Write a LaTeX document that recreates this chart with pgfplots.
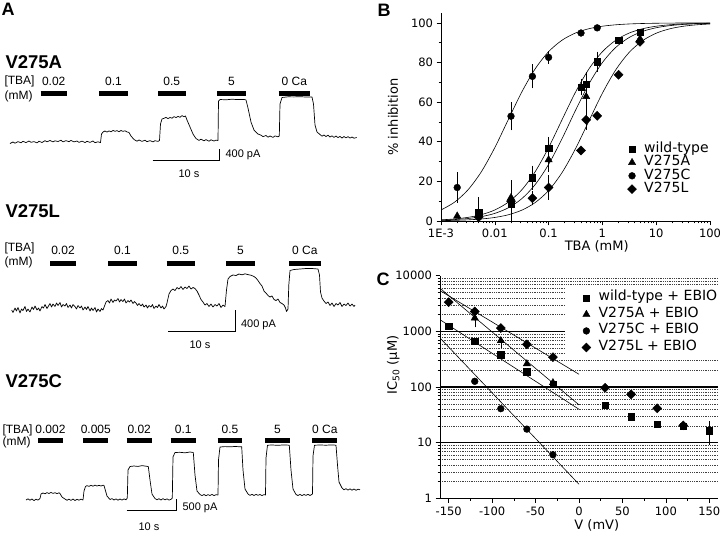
\documentclass[border=0pt]{standalone}
\usepackage{pgfplots}
\pgfplotsset{compat=1.18}
\usepackage{fontspec}
\setmainfont{Liberation Sans}
\newfontfamily\dv{DejaVu Sans}
\newcommand\fA{\fontsize{12bp}{14bp}\selectfont}
\newcommand\fSc{\fontsize{11bp}{13bp}\selectfont}
\newcommand\fName{\bfseries\fontsize{18.5bp}{20bp}\selectfont}
\newcommand\fPanel{\bfseries\fontsize{18bp}{20bp}\selectfont}
\newcommand\fTick{\dv\fontsize{11.5bp}{13bp}\selectfont}
\newcommand\fLeg{\dv\fontsize{14bp}{16bp}\selectfont}
\newcommand\fLab{\dv\fontsize{13bp}{15bp}\selectfont}

\pgfplotsset{
  legimg/.style={legend image code/.code={\path (0bp,0bp) (18bp,0bp); \draw[##1] plot coordinates {(8bp,0bp)};}},
  sqm/.style={black, only marks, mark=square*, mark size=3.2bp, legimg},
  trm/.style={black, only marks, mark=triangle*, mark size=4.2bp, legimg},
  cim/.style={black, only marks, mark=*, mark size=3.4bp, legimg},
  dim/.style={black, only marks, mark=square*, mark size=3.2bp, mark options={rotate=45, fill=black, draw=black}, legimg},
  errb/.style={black, only marks, mark=none, forget plot,
    error bars/.cd, y dir=both, y explicit,
    error bar style={black, line width=0.5bp},
    error mark options={black, mark size=2.2bp, line width=0.5bp}},
  fitc/.style={black, line width=0.6bp, smooth, no marks, forget plot},
  bar/.style={black, line width=5bp},
  trace/.style={black, line width=0.7bp, line join=round},
  sbar/.style={black, line width=0.6bp},
}

\begin{document}
\begin{tikzpicture}[x=1bp,y=1bp]
%================ PANEL A (pixel coordinates) ================
\begin{axis}[at={(0bp,0bp)}, anchor=south west, scale only axis,
  width=720bp, height=540bp, xmin=0, xmax=720, ymin=0, ymax=540,
  y dir=reverse, hide axis, clip=false]
\node[font=\fPanel, anchor=center] at (axis cs:8,9) {A};
\node[font=\fPanel, anchor=center] at (axis cs:384,10) {B};
\node[font=\fPanel, anchor=center] at (axis cs:383,279) {C};
% ---------- V275A ----------
\node[font=\fName, anchor=west] at (axis cs:2,62) {V275A};
\node[font=\fA, anchor=west] at (axis cs:1,81.7) {[TBA]};
\node[font=\fA, anchor=west] at (axis cs:1,96) {(mM)};
\node[font=\fA] at (axis cs:53.7,81) {0.02};
\node[font=\fA] at (axis cs:113.5,81) {0.1};
\node[font=\fA] at (axis cs:171.8,81) {0.5};
\node[font=\fA] at (axis cs:231.5,81) {5};
\node[font=\fA] at (axis cs:294.3,81) {0 Ca};
\addplot[bar] coordinates {(40.7,93.3) (66.7,93.3)};
\addplot[bar] coordinates {(99.3,93.3) (127.7,93.3)};
\addplot[bar] coordinates {(158,93.3) (185.7,93.3)};
\addplot[bar] coordinates {(217,93.3) (246,93.3)};
\addplot[bar] coordinates {(278.7,93.3) (310,93.3)};
\addplot[trace] coordinates {
(10,143.5) (13,142) (15,143.2) (18,141.6) (21,142.8) (23,141.3) (26,142.6) (29,141) (31,142.3)
(34,141.6) (37,142.9) (39,141.2) (42,142.5) (45,140.7) (47,141.8) (50,140.5) (53,141.9) (55,140.8)
(58,141.5) (61,140.2) (63,141.9) (66,140.6) (69,141.7) (71,140.4) (74,141.9) (77,141) (79,142.4)
(82,141.1) (85,142.6) (87,141.3) (90,142.4) (93,141) (95,142.7) (98,141.8) (100.5,142.6)
(101.5,134) (103,132) (105,131) (107,132.1) (109,130.9) (111,131.8) (113,130.4) (115,131.3)
(117,130.6) (119,131.7) (121,130.5) (123,131.4) (125,130.8) (127,131.9)
(129,132.5) (131,136) (134,139.5) (137,141.2) (139,140) (142,141.4) (145,140.2) (147,141.7)
(150,140.6) (153,141.9) (155,140.7) (158,141.4) (159.5,140.5) (160.5,124) (162,119) (164,118.3)
(166,117.4) (168,118.6) (170,117.5) (172,118.2) (174,116.6) (176,117.6) (178,116.4) (180,117.3)
(182,115.6) (184,116.7) (185.5,116) (187,120) (190,127) (193,134) (196,138.5) (199,140.4)
(201,139.2) (204,140.8) (206,139.6) (209,141.2) (211,139.8) (214,141) (216,140.1) (218,140.5)
(218.5,101) (220,99.5) (226,99.8) (232,99.2) (238,99.6) (244,99.4) (246,100) (248,108) (251,122)
(254,130) (258,134) (261,135.2) (263,136.6) (266,135.5) (268,137.2) (270,136) (273,137.4)
(275,135.9) (278,136.8) (279.3,136) (280,104) (282,97.5) (288,96.8) (294,96.9) (300,96.7)
(306,97) (312,97) (313.5,104) (315,125) (317,132) (320,134.5) (322,136.2) (324,135) (326,136.5)
(328,135.2) (330,137) (332,135.8) (334,137.4) (336,136) (338,137.6) (340,136.4) (342,138)
(344,136.5) (346,137.9) (348,136.6) (350,138.1) (352,137) (354,138.2) (356.7,137.5)};
\addplot[sbar] coordinates {(152.7,160.7) (219,160.7) (219,149.3)};
\node[font=\fSc, anchor=west] at (axis cs:222,155) {400 pA};
\node[font=\fSc] at (axis cs:189,173.3) {10 s};
% ---------- V275L ----------
\node[font=\fName, anchor=west] at (axis cs:2,211.5) {V275L};
\node[font=\fA, anchor=west] at (axis cs:1,248) {[TBA]};
\node[font=\fA, anchor=west] at (axis cs:1,262) {(mM)};
\node[font=\fA] at (axis cs:63,250.7) {0.02};
\node[font=\fA] at (axis cs:122.5,250.7) {0.1};
\node[font=\fA] at (axis cs:180.7,250.7) {0.5};
\node[font=\fA] at (axis cs:240.5,250.7) {5};
\node[font=\fA] at (axis cs:304.8,250.7) {0 Ca};
\addplot[bar] coordinates {(50,263.2) (76,263.2)};
\addplot[bar] coordinates {(108.3,263.2) (136.7,263.2)};
\addplot[bar] coordinates {(166.7,263.2) (194.7,263.2)};
\addplot[bar] coordinates {(226,263.2) (255,263.2)};
\addplot[bar] coordinates {(289,263.2) (320.7,263.2)};
\addplot[trace] coordinates {
(11.7,310) (13,312.5) (15,308) (16.5,311) (18,307.5) (20,313) (21.5,309) (23,310.5) (25,306.5)
(26.5,311.5) (28,309) (30,312) (32,307) (33.5,309.5) (35,306) (37,310) (38.5,308) (40,311)
(42,306.5) (43.5,308) (45,304.5) (47,308.5) (48.5,306) (50,303.5) (51.5,307) (53,304) (55,306.5)
(56.5,303) (58,305.5) (60,302.5) (61.5,307) (63,304.5) (65,306) (66.5,303.5) (68,307.5) (70,305)
(71.5,308) (73,304.5) (75,306.5) (76.5,309) (78,305.5) (80,308) (81.5,306) (83,310) (85,307)
(86.5,309.5) (88,306.5) (90,311) (91.5,308) (93,310.5) (95,307.5) (96.5,312) (98,309) (100,311.5)
(101.5,308.5) (103,310) (104.5,306) (106,302) (108,300.5) (109.5,303) (111,299) (113,302.5)
(114.5,300) (116,301) (118,298.5) (119.5,302) (121,299.5) (123,301.5) (124.5,299) (126,303)
(128,300.5) (129.5,302) (131,300) (133,303.5) (134.5,301.5) (136,303) (137.5,305.5) (139,303.5)
(141,306) (142.5,304) (144,307) (146,305) (147.5,308) (149,305.5) (151,307) (152.5,304.5)
(154,308.5) (156,306) (157.5,307.5) (159,304.5) (161,308) (162.5,306) (164,309) (166,306.5)
(167,303) (169,294) (171,290.5) (173,289) (175,290.5) (177,287.5) (179,289) (181,286.5)
(183,289.5) (185,287) (187,288.5) (189,286) (191,289) (193,287.5) (195,288.5) (197,291)
(199,295) (201,299.5) (203,302) (205,305) (207,303.5) (209,306.5) (211,304) (213,307)
(215,304.5) (217,306) (219,303.5) (221,307.5) (223,305) (225,306.5) (226.5,290) (228,279)
(230,276.5) (233,275) (236,275.5) (239,274) (242,274.8) (245,273.8) (248,274.6) (251,275.2)
(254,276.5) (256,278) (258,280.5) (260,283.5) (262,286) (264,291) (266,293) (268,295.5)
(270,297) (272,296) (274,299.5) (276,300.5) (278,299) (280,302.5) (282,303.5) (284,305)
(285.5,308) (286.5,311.5) (288,309) (288.8,285) (290,270.5) (294,269.5) (300,269) (306,268.5)
(312,268.5) (318,269) (319.5,275) (320.5,292) (322,298) (324,301) (326,303.5) (328,302)
(330,305.5) (332,303) (334,306.5) (336,303.5) (338,305) (340,302.5) (342,306.5) (344,304)
(346,305.5) (348,303) (350,306) (352,304) (354,306.5) (355,305)};
\addplot[sbar] coordinates {(168.3,331.7) (235.7,331.7) (235.7,310)};
\node[font=\fSc, anchor=west] at (axis cs:237.5,325) {400 pA};
\node[font=\fSc] at (axis cs:200,345) {10 s};
% ---------- V275C ----------
\node[font=\fName, anchor=west] at (axis cs:2,381.5) {V275C};
\node[font=\fA, anchor=west] at (axis cs:-1,430) {[TBA]};
\node[font=\fA, anchor=west] at (axis cs:-1,442) {(mM)};
\node[font=\fA] at (axis cs:50.5,429.3) {0.002};
\node[font=\fA] at (axis cs:95.8,429.3) {0.005};
\node[font=\fA] at (axis cs:139.2,429.3) {0.02};
\node[font=\fA] at (axis cs:183.2,429.3) {0.1};
\node[font=\fA] at (axis cs:230,429.3) {0.5};
\node[font=\fA] at (axis cs:277.5,429.3) {5};
\node[font=\fA] at (axis cs:324.8,429.3) {0 Ca};
\addplot[bar] coordinates {(38.3,440.8) (62.7,440.8)};
\addplot[bar] coordinates {(83.3,440.8) (108.3,440.8)};
\addplot[bar] coordinates {(126.7,440.8) (151.7,440.8)};
\addplot[bar] coordinates {(170.7,440.8) (195.7,440.8)};
\addplot[bar] coordinates {(217.7,440.8) (242.3,440.8)};
\addplot[bar] coordinates {(265,440.8) (290,440.8)};
\addplot[bar] coordinates {(312.3,440.8) (337.3,440.8)};
\addplot[trace] coordinates {
(26,500) (28,498.8) (30,500.2) (32,499) (34,500.6) (36,499.2) (38,500.1) (40,498.5) (41,494)
(43,493) (45,493.8) (47,492.6) (49,493.5) (51,492.4) (53,493.4) (55,492.7) (57,493.6) (59,492.8)
(60,493.5) (62,497) (65,499) (67,500.3) (69,499.1) (71,500.4) (73,499) (75,500.5) (77,499.3)
(79,500.2) (81,499.1) (83,500) (84,491) (85.5,486.5) (87,485.6) (89,486.4) (91,485.3) (93,486.2)
(95,485.1) (97,486) (99,485.3) (101,486) (103,485.2) (104,485.5) (105,489) (107,496) (110,499.5)
(112,498.6) (114,500) (116,498.9) (118,500.2) (120,499) (122,500.1) (124,498.9) (126,499.8)
(127.3,498) (128,470) (130,466.5) (134,466) (138,466.4) (142,465.6) (146,466.2) (148.3,466.5)
(150,480) (152,494) (155,498.5) (157,499.8) (159,498.7) (161,500) (163,498.6) (165,499.9)
(167,498.8) (169,500.1) (171,499.3) (172.3,498) (173,457) (175,452.5) (180,452.3) (185,452.8)
(190,452) (193.3,452.5) (195,475) (197,491) (200,494.5) (202,495.6) (204,494.5) (206,495.7)
(208,494.6) (210,495.5) (212,494.4) (214,495.6) (216,494.7) (218,495) (218.5,460) (220,447)
(225,446.6) (230,446.8) (235,446.5) (241.7,446.8) (243,470) (245,489) (248,494) (250,495.4)
(252,494.3) (254,495.5) (256,494.4) (258,495.3) (260,494.5) (262,495.6) (264,494.6) (265.5,495)
(266,458) (267.5,445.2) (272,445) (278,445.3) (284,444.9) (289.3,445.2) (291,470) (293,489)
(296,494.5) (298,495.5) (300,494.4) (302,495.6) (304,494.5) (306,495.4) (308,494.3) (310,495.5)
(312.5,494) (313,456) (314.5,445.2) (320,445) (326,445.2) (332,444.9) (336,445.2) (337.5,465)
(339,482) (342,488) (344,489.8) (346,488.7) (348,490.1) (350,488.8) (352,490.2) (354,489)
(356,490.3) (358,489.2) (360,489.8)};
\addplot[sbar] coordinates {(126.7,510.7) (176.7,510.7) (176.7,499.3)};
\node[font=\fSc, anchor=west] at (axis cs:179,508) {500 pA};
\node[font=\fSc] at (axis cs:149,526.7) {10 s};
\end{axis}

%================ PANEL B ================
\begin{axis}[at={(441bp,319bp)}, anchor=south west, scale only axis,
  width=269bp, height=208bp,
  xmode=log, xmin=0.001, xmax=100, ymin=0, ymax=105,
  axis lines*=left, axis line style={-, line width=0.7bp},
  tick align=outside, tick style={black, line width=0.6bp},
  major tick length=4.5bp, minor tick length=2.5bp,
  ytick={0,20,40,60,80,100}, minor ytick={10,30,50,70,90},
  xtick={0.001,0.01,0.1,1,10,100}, xticklabels={1E-3,0.01,0.1,1,10,100},
  minor xtick={0.002,0.003,0.004,0.005,0.006,0.007,0.008,0.009,
    0.02,0.03,0.04,0.05,0.06,0.07,0.08,0.09,0.2,0.3,0.4,0.5,0.6,0.7,0.8,0.9,
    2,3,4,5,6,7,8,9,20,30,40,50,60,70,80,90},
  tick label style={font=\fTick}, /pgf/number format/assume math mode=true,
  xlabel={TBA (mM)}, ylabel={\% inhibition}, label style={font=\fLab},
  xlabel style={at={(axis description cs:0.579,-0.124)}, anchor=center},
  ylabel style={at={(axis description cs:-0.178,0.5)}, anchor=center},
  legend cell align=left,
  legend style={at={(axis description cs:0.679,0.378)}, anchor=north west,
    draw=none, fill=none, inner sep=0pt, row sep=0pt, font=\fLeg,
    nodes={inner ysep=0pt, text height=10bp, text depth=3.3bp}},
]
% fitted curves
\addplot[fitc] coordinates {(0.001,5.56) (0.001778,9.47) (0.003162,15.68) (0.005623,24.86) (0.01,37.04) (0.01778,51.12) (0.03162,65.03) (0.05623,76.79) (0.1,85.47) (0.1778,91.27) (0.3162,94.90) (0.5623,97.07) (1,98.33) (1.778,99.05) (3.162,99.47) (5.623,99.70) (10,99.83) (17.78,99.90) (31.62,99.95) (56.23,99.97) (100,99.98)};
\addplot[fitc] coordinates {(0.001,0.585) (0.001778,1.035) (0.003162,1.826) (0.005623,3.20) (0.01,5.56) (0.01778,9.47) (0.03162,15.68) (0.05623,24.86) (0.1,37.04) (0.1778,51.12) (0.3162,65.03) (0.5623,76.79) (1,85.47) (1.778,91.27) (3.162,94.90) (5.623,97.07) (10,98.33) (17.78,99.05) (31.62,99.47) (56.23,99.70) (100,99.83)};
\addplot[fitc] coordinates {(0.001,0.398) (0.001778,0.706) (0.003162,1.249) (0.005623,2.20) (0.01,3.85) (0.01778,6.64) (0.03162,11.23) (0.05623,18.36) (0.1,28.57) (0.1778,41.56) (0.3162,55.85) (0.5623,69.22) (1,80.0) (1.778,87.67) (3.162,92.67) (5.623,95.74) (10,97.56) (17.78,98.61) (31.62,99.22) (56.23,99.56) (100,99.75)};
\addplot[fitc] coordinates {(0.001,0.181) (0.001778,0.322) (0.003162,0.572) (0.005623,1.012) (0.01,1.786) (0.01778,3.13) (0.03162,5.44) (0.05623,9.28) (0.1,15.38) (0.1778,24.43) (0.3162,36.50) (0.5623,50.55) (1,64.52) (1.778,76.37) (3.162,85.18) (5.623,91.09) (10,94.79) (17.78,97.0) (31.62,98.29) (56.23,99.03) (100,99.45)};
% error bars
\addplot[errb] coordinates {(0.005,4.4) +- (0,6.5) (0.02,8.6) +- (0,7.5) (0.05,21.9) +- (0,5) (0.1,36.8) +- (0,4.5) (0.4,67.6) +- (0,3) (0.5,69) +- (0,5) (0.8,80.4) +- (0,4)};
\addplot[errb] coordinates {(0.02,11.8) +- (0,7.7) (0.1,30.9) +- (0,5) (0.5,62.8) +- (0,6)};
\addplot[errb] coordinates {(0.002,16.9) +- (0,6.5) (0.02,52.9) +- (0,6) (0.05,73) +- (0,5) (0.1,82.6) +- (0,2)};
\addplot[errb] coordinates {(0.05,11.5) +- (0,2.5) (0.1,16.9) +- (0,5) (0.5,51.1) +- (0,4)};
% markers
\addplot[sqm] coordinates {(0.005,4.4) (0.02,8.6) (0.05,21.9) (0.1,36.8) (0.4,67.6) (0.5,69) (0.8,80.4) (2,91.2) (5,95.4)};
\addlegendentry{wild-type}
\addplot[trm] coordinates {(0.002,2.5) (0.02,11.8) (0.1,30.9) (0.5,62.8) (5,92)};
\addlegendentry{V275A}
\addplot[cim] coordinates {(0.002,16.9) (0.02,52.9) (0.05,73) (0.1,82.6) (0.4,94.9) (0.8,97.5)};
\addlegendentry{V275C}
\addplot[dim] coordinates {(0.005,1.9) (0.02,10) (0.05,11.5) (0.1,16.9) (0.4,35.6) (0.5,51.1) (0.8,53.1) (2,73.8) (5,90.4)};
\addlegendentry{V275L}
\end{axis}

%================ PANEL C ================
\begin{axis}[at={(440bp,41.5bp)}, anchor=south west, scale only axis,
  width=278bp, height=222.8bp,
  xmin=-160, xmax=160, ymode=log, ymin=1, ymax=10000,
  axis lines*=left, axis line style={-, line width=0.7bp},
  tick align=outside, tick style={black, line width=0.6bp},
  major tick length=4.5bp, minor tick length=2.5bp,
  xtick={-150,-100,-50,0,50,100,150}, xticklabels={-150,-100,-50,0,50,100,150},
  minor xtick={-125,-75,-25,25,75,125},
  ytick={1,10,100,1000,10000}, yticklabels={1,10,100,1000,10000},
  minor ytick={2,3,4,5,6,7,8,9,20,30,40,50,60,70,80,90,200,300,400,500,600,700,800,900,2000,3000,4000,5000,6000,7000,8000,9000},
  yminorgrids=true,
  minor grid style={black!75, line width=0.5bp, dash pattern=on 0.7bp off 1.1bp},
  extra y ticks={10,100,1000}, extra y tick labels={},
  extra y tick style={grid=major, major grid style={black, line width=1.3bp}},
  tick label style={font=\fTick}, /pgf/number format/assume math mode=true,
  xlabel={V (mV)}, ylabel={IC\textsubscript{50} (µM)}, label style={font=\fLab},
  xlabel style={at={(axis description cs:0.564,-0.119)}, anchor=center},
  ylabel style={at={(axis description cs:-0.168,0.599)}, anchor=center},
  legend cell align=left,
  legend style={at={(axis description cs:0.4496,0.956)}, anchor=north west,
    draw=none, fill=white, inner xsep=13bp, inner ysep=4bp, row sep=0pt, font=\fLeg,
    nodes={inner ysep=0pt, text height=11bp, text depth=5.5bp}},
]
% fit lines
\addplot[black, line width=0.6bp, forget plot] coordinates {(-160,5400) (0,170)};
\addplot[black, line width=0.6bp, forget plot] coordinates {(-160,5960) (0,48)};
\addplot[black, line width=0.6bp, forget plot] coordinates {(-160,1620) (0,40)};
\addplot[black, line width=0.6bp, forget plot] coordinates {(-160,763) (0,1.8)};
% error bars
\addplot[errb] coordinates {(150,16.4) += (0,6) -= (0,6.4)};
\addplot[errb] coordinates {(-120,1735) += (0,0) -= (0,445) (-90,682) += (0,0) -= (0,126)};
% markers
\addplot[sqm] coordinates {(-150,1228) (-120,663) (-90,380) (-60,188) (-30,112) (30,47.7) (60,29.6) (90,21.8) (120,20) (150,16.4)};
\addlegendentry{wild-type + EBIO}
\addplot[trm] coordinates {(-120,1735) (-90,682) (-60,262) (-30,120)};
\addlegendentry{V275A + EBIO}
\addplot[cim] coordinates {(-120,127) (-90,41) (-60,17.6) (-30,6.1)};
\addlegendentry{V275C + EBIO}
\addplot[dim] coordinates {(-150,3350) (-120,2275) (-90,1150) (-60,586) (-30,344) (30,97) (60,74) (90,41.7) (120,20.5)};
\addlegendentry{V275L + EBIO}
\end{axis}
\pgfresetboundingbox
\path (0bp,0bp) rectangle (720bp,540bp);
\end{tikzpicture}
\end{document}
